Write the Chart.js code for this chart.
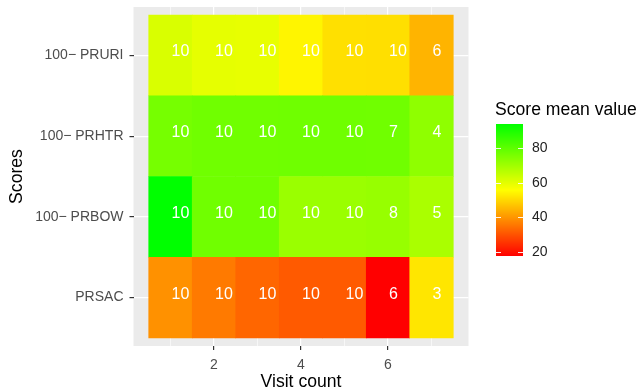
<!DOCTYPE html>
<html>
<head>
<meta charset="utf-8">
<script src="https://cdn.jsdelivr.net/npm/chart.js@4.4.0/dist/chart.umd.min.js"></script>
<style>
  html, body { margin: 0; padding: 0; background: #fff; }
  #wrap { width: 640px; height: 391px; }
</style>
</head>
<body>
<div id="wrap"><canvas id="myChart"></canvas></div>
<script>
// data, bottom row first
const visits = [1, 2, 3, 4, 5, 6, 7];
const scoreNames = ["PRSAC", "100\u2212 PRBOW", "100\u2212 PRHTR", "100\u2212 PRURI"];

const meanPRSAC = [39.2, 35.8, 32.8, 31, 31, 17.5, 52];
const meanPRBOW = [94, 77.2, 77.2, 70.9, 70.9, 71.3, 68.5];
const meanPRHTR = [76.3, 77.2, 77.2, 77.4, 77.4, 77.2, 72.5];
const meanPRURI = [61.4, 59.5, 59.2, 54.2, 51.1, 51, 44.5];

const countPRSAC = [10, 10, 10, 10, 10, 6, 3];
const countPRBOW = [10, 10, 10, 10, 10, 8, 5];
const countPRHTR = [10, 10, 10, 10, 10, 7, 4];
const countPRURI = [10, 10, 10, 10, 10, 10, 6];

const legendTicks = [20, 40, 60, 80];

const means = [meanPRSAC, meanPRBOW, meanPRHTR, meanPRURI];
const counts = [countPRSAC, countPRBOW, countPRHTR, countPRURI];

const allMeans = [].concat(...means);
const lo = Math.min(...allMeans);
const hi = Math.max(...allMeans);

// red -> yellow -> green
function fillColor(v) {
  const t = (v - lo) / (hi - lo);
  let r, g;
  if (t < 0.5) {
    r = 255;
    g = Math.round(510 * t);
  } else {
    r = Math.round(255 - 510 * (t - 0.5));
    g = 255;
  }
  return `rgb(${r},${g},0)`;
}

Chart.defaults.font.family = "'Liberation Sans', Arial, sans-serif";

const datasets = means.map((row, r) => ({
  data: visits.map((v) => ({ x: v, y: [r + 0.5, r + 1.5] })),
  backgroundColor: row.map(fillColor),
  counts: counts[r],
  grouped: false,
  categoryPercentage: 1,
  barPercentage: 1,
  borderWidth: 0,
}));

// grey panel
const panelBg = {
  id: "panelBg",
  beforeDraw(chart) {
    const { ctx, chartArea: a } = chart;
    ctx.save();
    ctx.fillStyle = "#EBEBEB";
    ctx.fillRect(a.left, a.top, a.right - a.left, a.bottom - a.top);
    ctx.restore();
  },
};

// count labels
const cellText = {
  id: "cellText",
  afterDatasetsDraw(chart) {
    const ctx = chart.ctx;
    ctx.save();
    ctx.fillStyle = "#fff";
    ctx.font = "16px 'Liberation Sans', Arial, sans-serif";
    ctx.textAlign = "left";
    ctx.textBaseline = "alphabetic";
    chart.data.datasets.forEach((ds, i) => {
      chart.getDatasetMeta(i).data.forEach((bar, j) => {
        const yc = (bar.y + bar.base) / 2;
        ctx.fillText(String(ds.counts[j]), bar.x + 1, yc + 1);
      });
    });
    ctx.restore();
  },
};

// colour bar legend
const colorBar = {
  id: "colorBar",
  afterDraw(chart) {
    const ctx = chart.ctx;
    const x0 = 496, x1 = 523, top = 124, bottom = 256;
    const toY = (v) => bottom - ((v - lo) / (hi - lo)) * (bottom - top);
    ctx.save();
    for (let y = top; y < bottom; y++) {
      const v = hi - ((y + 0.5 - top) / (bottom - top)) * (hi - lo);
      ctx.fillStyle = fillColor(v);
      ctx.fillRect(x0, y, x1 - x0, 1);
    }
    ctx.strokeStyle = "rgba(255,255,255,0.9)";
    ctx.lineWidth = 1;
    ctx.fillStyle = "#222";
    ctx.font = "14px 'Liberation Sans', Arial, sans-serif";
    ctx.textAlign = "left";
    ctx.textBaseline = "middle";
    legendTicks.forEach((t) => {
      const y = Math.round(toY(t)) + 0.5;
      ctx.beginPath();
      ctx.moveTo(x0, y);
      ctx.lineTo(x0 + 5, y);
      ctx.moveTo(x1 - 5, y);
      ctx.lineTo(x1, y);
      ctx.stroke();
      ctx.fillText(String(t), 532, y);
    });
    ctx.fillStyle = "#000";
    ctx.font = "17.6px 'Liberation Sans', Arial, sans-serif";
    ctx.textBaseline = "alphabetic";
    ctx.fillText("Score mean value", 495, 115);
    ctx.restore();
  },
};

new Chart(document.getElementById("myChart"), {
  type: "bar",
  data: { datasets: datasets },
  plugins: [panelBg, cellText, colorBar],
  options: {
    responsive: true,
    maintainAspectRatio: false,
    animation: false,
    layout: { padding: { left: 0, right: 171.5, top: 7, bottom: 0 } },
    plugins: {
      legend: { display: false },
      tooltip: { enabled: false },
    },
    scales: {
      x: {
        type: "linear",
        min: 0.15,
        max: 7.85,
        offset: false,
        afterBuildTicks: (s) => {
          s.ticks = visits.map((v) => ({ value: v }));
        },
        afterFit: (s) => {
          s.height = 45;
          s.paddingLeft = 0;
          s.paddingRight = 0;
        },
        ticks: {
          autoSkip: false,
          maxRotation: 0,
          padding: 7,
          color: "#4D4D4D",
          font: { size: 14 },
          callback: (v) => (v % 2 === 0 ? v : ""),
        },
        grid: {
          offset: false,
          color: "#fff",
          lineWidth: (c) => (c.tick && c.tick.value % 2 === 0 ? 1.2 : 0.6),
          drawTicks: true,
          tickLength: 4,
          tickColor: (c) => (c.tick && c.tick.value % 2 === 0 ? "#333" : "rgba(0,0,0,0)"),
          tickWidth: 1.2,
        },
        border: { display: false },
        title: {
          display: true,
          text: "Visit count",
          color: "#000",
          font: { size: 17.6, lineHeight: 1 },
          padding: { top: 0, bottom: 0 },
        },
      },
      y: {
        type: "linear",
        min: 0.4,
        max: 4.6,
        beginAtZero: false,
        afterBuildTicks: (s) => {
          s.ticks = scoreNames.map((n, i) => ({ value: i + 1 }));
        },
        afterFit: (s) => {
          s.width = 133.5;
          s.paddingTop = 0;
          s.paddingBottom = 0;
        },
        ticks: {
          autoSkip: false,
          padding: 6,
          color: "#4D4D4D",
          font: { size: 14 },
          callback: (v) => scoreNames[v - 1],
        },
        grid: {
          color: "#fff",
          lineWidth: 1.2,
          drawTicks: true,
          tickLength: 4,
          tickColor: "#333",
          tickWidth: 1.2,
        },
        border: { display: false },
        title: {
          display: true,
          text: "Scores",
          color: "#000",
          font: { size: 17.6, lineHeight: 1 },
          padding: { top: 8, bottom: 0 },
        },
      },
    },
  },
});
</script>
</body>
</html>
